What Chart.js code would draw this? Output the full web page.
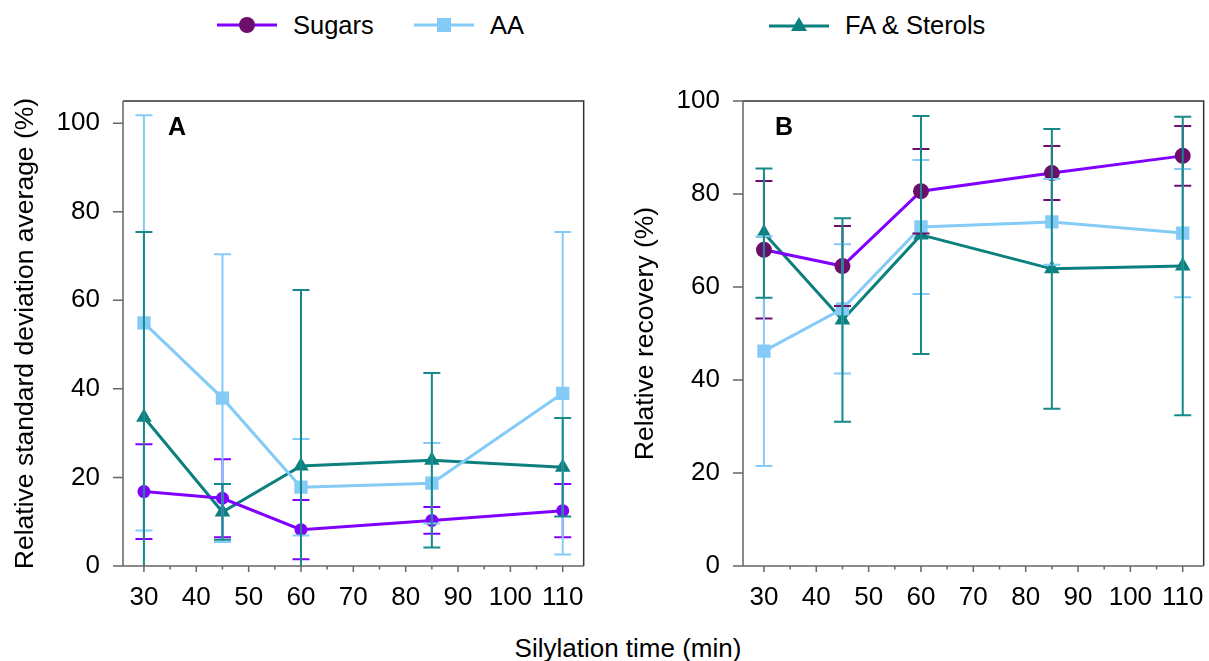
<!DOCTYPE html>
<html lang="en">
<head>
    <meta charset="UTF-8">
    <title>Silylation time</title>
    <script src="https://cdn.jsdelivr.net/npm/chart.js"></script>
    <style>
        body {
            margin: 0;
            width: 1209px;
            height: 661px;
            position: relative;
            background: #fff;
            font-family: 'Liberation Sans', Arial, sans-serif;
            overflow: hidden;
        }
        .legend-item {
            position: absolute;
            top: 8px;
            height: 34px;
            display: flex;
            align-items: center;
            font-size: 25.5px;
            color: #000;
        }
        .legend-item svg {
            margin-right: 15px;
        }
        #chartA, #chartB {
            position: absolute;
            top: 60px;
        }
        #chartA { left: 0; }
        #chartB { left: 620px; }
        #xTitle {
            position: absolute;
            top: 633px;
            left: 0;
            width: 1256px;
            text-align: center;
            font-size: 26px;
            line-height: 30px;
        }
    </style>
</head>
<body>
    <div class="legend-item" style="left: 216px;">
        <svg width="62" height="20"><line x1="1" y1="10" x2="61" y2="10" stroke="#8000ff" stroke-width="3"/><circle cx="31" cy="10" r="8" fill="#6c0e6c"/></svg>Sugars
    </div>
    <div class="legend-item" style="left: 413px;">
        <svg width="62" height="20"><line x1="1" y1="10" x2="61" y2="10" stroke="#84cbf7" stroke-width="3"/><rect x="24" y="3" width="14" height="14" fill="#84cbf7"/></svg>AA
    </div>
    <div class="legend-item" style="left: 768px;">
        <svg width="62" height="20"><line x1="1" y1="11" x2="61" y2="11" stroke="#0b807f" stroke-width="3"/><polygon points="31,2 39,16 23,16" fill="#0b807f"/></svg>FA &amp; Sterols
    </div>

    <canvas id="chartA" width="600" height="560"></canvas>
    <canvas id="chartB" width="600" height="560"></canvas>
    <div id="xTitle">Silylation time (min)</div>

    <script>
        // silylation times (min)
        const times = [30, 45, 60, 85, 110];

        // panel A: relative standard deviation average (%), +/- error
        const sugarsRsd = [16.8, 15.3, 8.2, 10.3, 12.5];
        const sugarsRsdErr = [10.7, 8.8, 6.7, 3.0, 6.0];
        const aaRsd = [54.9, 37.9, 17.8, 18.7, 39.0];
        const aaRsdErr = [46.9, 32.5, 10.9, 9.1, 36.4];
        const faRsd = [33.6, 12.2, 22.6, 23.9, 22.3];
        const faRsdErr = [41.8, 6.3, 39.7, 19.7, 11.1];

        // panel B: relative recovery (%), +/- error
        const sugarsRec = [68.0, 64.5, 80.6, 84.5, 88.2];
        const sugarsRecErr = [14.8, 8.6, 9.1, 5.8, 6.4];
        const aaRec = [46.2, 55.3, 72.9, 74.0, 71.6];
        const aaRecErr = [24.7, 13.9, 14.4, 9.2, 13.8];
        const faRec = [71.6, 52.9, 71.2, 63.9, 64.5];
        const faRecErr = [13.9, 21.9, 25.6, 30.1, 32.1];

        const yTicksA = [0, 20, 40, 60, 80, 100];
        const yTicksB = [0, 20, 40, 60, 80, 100];

        const violet = '#8000ff';
        const plum = '#6c0e6c';
        const skyBlue = '#84cbf7';
        const teal = '#0b807f';

        Chart.defaults.font.family = "'Liberation Sans', Arial, sans-serif";
        Chart.defaults.font.size = 26;
        Chart.defaults.color = '#000';

        function points(vals) {
            return times.map((t, i) => ({ x: t, y: vals[i] }));
        }

        // vertical error bars with caps, clipped to the plot
        const errorBars = {
            id: 'errorBars',
            afterDatasetsDraw(chart) {
                const { ctx, chartArea, scales: { x, y } } = chart;
                ctx.save();
                ctx.beginPath();
                ctx.rect(chartArea.left, chartArea.top - 1, chartArea.width, chartArea.height + 1);
                ctx.clip();
                chart.data.datasets.forEach(ds => {
                    ctx.strokeStyle = ds.errorColor;
                    ctx.lineWidth = 2;
                    ds.data.forEach((p, i) => {
                        const e = ds.errors[i];
                        const px = x.getPixelForValue(p.x);
                        const top = y.getPixelForValue(p.y + e);
                        const bot = y.getPixelForValue(p.y - e);
                        ctx.beginPath();
                        ctx.moveTo(px, top); ctx.lineTo(px, bot);
                        ctx.moveTo(px - 8.5, top); ctx.lineTo(px + 8.5, top);
                        ctx.moveTo(px - 8.5, bot); ctx.lineTo(px + 8.5, bot);
                        ctx.stroke();
                    });
                });
                ctx.restore();
            }
        };

        // box frame, tick marks and the panel letter
        const frame = {
            id: 'frame',
            afterDraw(chart, args, opts) {
                const { ctx, chartArea: a, scales: { x, y } } = chart;
                ctx.save();
                ctx.lineWidth = 1.5;
                ctx.strokeStyle = '#333';
                ctx.beginPath();
                ctx.moveTo(a.left, a.top); ctx.lineTo(a.right, a.top); ctx.lineTo(a.right, a.bottom);
                ctx.stroke();
                ctx.strokeStyle = '#666';
                ctx.beginPath();
                ctx.moveTo(a.left, a.top); ctx.lineTo(a.left, a.bottom); ctx.lineTo(a.right, a.bottom);
                y.ticks.forEach(t => {
                    const py = y.getPixelForValue(t.value);
                    ctx.moveTo(a.left - 10, py); ctx.lineTo(a.left, py);
                });
                x.ticks.forEach(t => {
                    const px = x.getPixelForValue(t.value);
                    ctx.moveTo(px, a.bottom); ctx.lineTo(px, a.bottom + (t.value % 10 === 0 ? 6 : 3.5));
                });
                ctx.stroke();
                ctx.fillStyle = '#000';
                ctx.font = "bold 25px 'Liberation Sans', Arial, sans-serif";
                ctx.textBaseline = 'middle';
                ctx.fillText(opts.letter, a.left + opts.dx, a.top + 27);
                ctx.restore();
            }
        };

        function makeChart(id, sets, yMax, yTicks, yTitle, letter, dx) {
            const ds = sets.map(s => ({
                label: s.label,
                data: points(s.values),
                errors: s.errors,
                errorColor: s.errorColor,
                borderColor: s.line,
                backgroundColor: s.marker,
                pointBackgroundColor: s.marker,
                pointBorderWidth: 0,
                pointStyle: s.style,
                pointRadius: s.radius,
                borderWidth: 3,
                tension: 0
            }));
            return new Chart(document.getElementById(id), {
                type: 'line',
                data: { datasets: ds },
                plugins: [errorBars, frame],
                options: {
                    responsive: false,
                    animation: false,
                    layout: { padding: { top: 41, right: 12, left: 0, bottom: 0 } },
                    plugins: {
                        legend: { display: false },
                        tooltip: { enabled: false },
                        frame: { letter: letter, dx: dx }
                    },
                    scales: {
                        x: {
                            type: 'linear',
                            min: 26,
                            max: 114,
                            grid: { display: false, drawTicks: false },
                            border: { display: false },
                            ticks: {
                                stepSize: 5,
                                includeBounds: false,
                                autoSkip: false,
                                maxRotation: 0,
                                padding: 16,
                                callback: v => (v % 10 === 0 ? String(v) : '')
                            },
                            afterFit: s => { s.height = 54; }
                        },
                        y: {
                            min: 0,
                            max: yMax,
                            grid: { display: false, drawTicks: false },
                            border: { display: false },
                            afterBuildTicks: s => { s.ticks = yTicks.map(v => ({ value: v })); },
                            ticks: { padding: 23 },
                            title: {
                                display: true,
                                text: yTitle,
                                font: { size: 26.5 },
                                padding: { top: 10, bottom: 0 }
                            },
                            afterFit: s => { s.width = 123; }
                        }
                    }
                }
            });
        }

        makeChart('chartA', [
            { label: 'Sugars', values: sugarsRsd, errors: sugarsRsdErr, line: violet, marker: violet, errorColor: violet, style: 'circle', radius: 6.5 },
            { label: 'AA', values: aaRsd, errors: aaRsdErr, line: skyBlue, marker: skyBlue, errorColor: skyBlue, style: 'rect', radius: 9.4 },
            { label: 'FA & Sterols', values: faRsd, errors: faRsdErr, line: teal, marker: teal, errorColor: '#16898a', style: 'triangle', radius: 9 }
        ], 105, yTicksA, 'Relative standard deviation average (%)', 'A', 45);

        makeChart('chartB', [
            { label: 'Sugars', values: sugarsRec, errors: sugarsRecErr, line: violet, marker: plum, errorColor: plum, style: 'circle', radius: 8 },
            { label: 'AA', values: aaRec, errors: aaRecErr, line: skyBlue, marker: skyBlue, errorColor: skyBlue, style: 'rect', radius: 9.4 },
            { label: 'FA & Sterols', values: faRec, errors: faRecErr, line: teal, marker: teal, errorColor: '#16898a', style: 'triangle', radius: 9 }
        ], 100, yTicksB, 'Relative recovery (%)', 'B', 32);
    </script>
</body>
</html>
